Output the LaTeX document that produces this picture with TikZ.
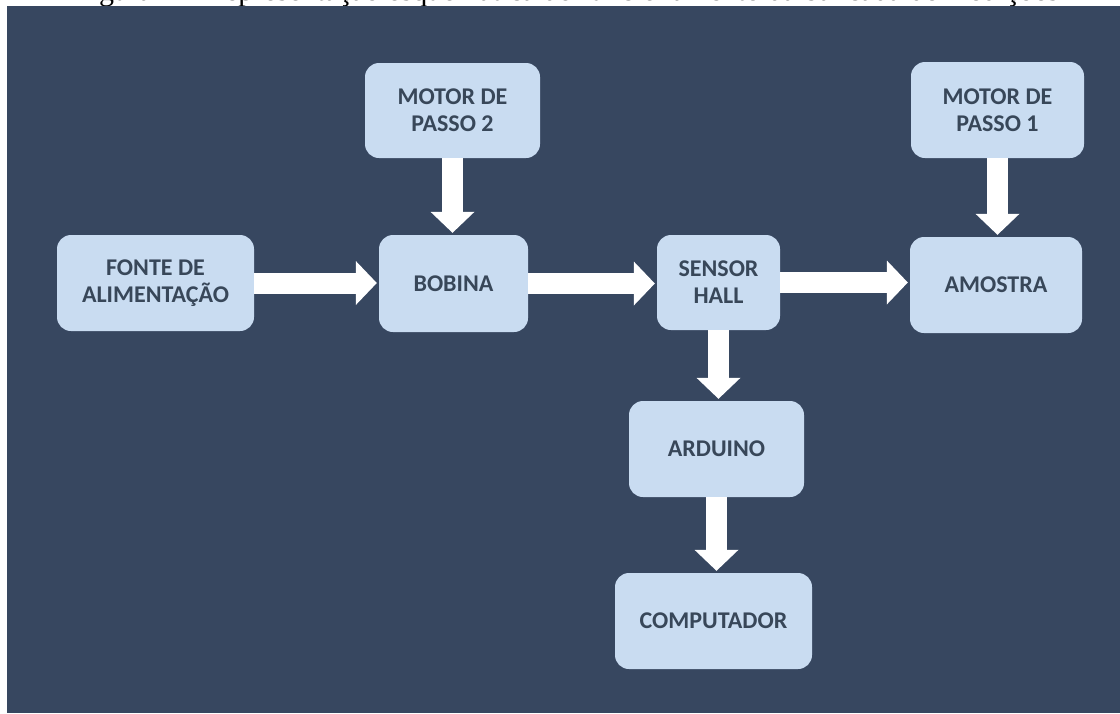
\documentclass[tikz,border=0pt]{standalone}
\usepackage{fontspec}
\setmainfont{Carlito}
\newfontfamily\capfont{Liberation Serif}
\usetikzlibrary{arrows.meta,calc}
\definecolor{bgdark}{HTML}{374760}
\definecolor{boxfill}{HTML}{C9DCF1}
\definecolor{boxtext}{HTML}{384759}
\tikzset{
  blockbox/.style={rectangle, rounded corners=14pt, fill=boxfill, draw=none,
    inner sep=0pt, align=center, text=boxtext,
    font=\fontsize{24}{27}\selectfont\bfseries},
  fatarrow/.style={draw=white, line width=21pt,
    -{Triangle[width=44pt,length=21pt,line width=0pt]}, shorten >=2pt}
}
\begin{document}
\begin{tikzpicture}[x=1pt,y=-1pt]
\useasboundingbox (0,0) rectangle (1120,713);
\fill[white] (0,0) rectangle (1120,713);
\begin{scope}
  \clip (0,0) rectangle (1120,6);
  \node[anchor=base west, inner sep=0pt, font=\capfont\fontsize{30}{34}\selectfont] (cap) at (74,0)
    {Figura 4 – Representação esquemática do funcionamento da bancada de medições};
\end{scope}
\fill[bgdark] (7,6) rectangle (1120,713);

\node[blockbox, minimum width=197pt, minimum height=96pt] (fonte) at (155.5,283) {FONTE DE\\ALIMENTAÇÃO};
\node[blockbox, minimum width=149pt, minimum height=97pt] (bobina) at (453.5,283.5) {BOBINA};
\node[blockbox, minimum width=175pt, minimum height=95pt] (mp2) at (452.5,110.5) {MOTOR DE\\PASSO 2};
\node[blockbox, minimum width=123pt, minimum height=95pt] (sensor) at (718.5,282.5) {SENSOR\\HALL};
\node[blockbox, minimum width=172pt, minimum height=96pt] (amostra) at (996,285) {AMOSTRA};
\node[blockbox, minimum width=173pt, minimum height=96pt] (mp1) at (997.5,110) {MOTOR DE\\PASSO 1};
\node[blockbox, minimum width=175pt, minimum height=96pt] (arduino) at (716.5,449) {ARDUINO};
\node[blockbox, minimum width=197pt, minimum height=96pt] (comp) at (713.5,621) {COMPUTADOR};

\draw[fatarrow] (fonte.east) -- (fonte.east -| bobina.west);
\draw[fatarrow] (bobina.east) -- (bobina.east -| sensor.west);
\draw[fatarrow] (sensor.east) -- (sensor.east -| amostra.west);
\draw[fatarrow] (mp2.south) -- (mp2.south |- bobina.north);
\draw[fatarrow] (mp1.south) -- (mp1.south |- amostra.north);
\draw[fatarrow] (sensor.south) -- (sensor.south |- arduino.north);
\draw[fatarrow] (arduino.south) -- (arduino.south |- comp.north);
\end{tikzpicture}
\end{document}
